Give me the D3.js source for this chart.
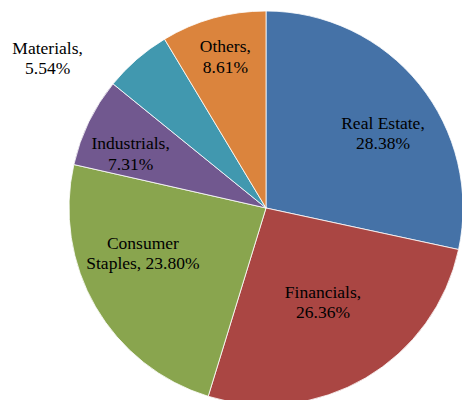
<!DOCTYPE html>
<html>
<head>
<meta charset="utf-8">
<script src="https://cdn.jsdelivr.net/npm/d3@7"></script>
<style>
  html, body { margin: 0; padding: 0; background: #fff; }
  svg { display: block; }
  text.lbl { font-family: "Liberation Serif", "Times New Roman", Times, "DejaVu Serif", serif; }
</style>
</head>
<body>
<svg id="chart" width="462" height="400"></svg>
<script>
const categories = ["Real Estate", "Financials", "Consumer Staples", "Industrials", "Materials", "Others"];
const values = [28.38, 26.36, 23.80, 7.31, 5.54, 8.61];
const labelLines = [
  ["Real Estate,", "28.38%"],
  ["Financials,", "26.36%"],
  ["Consumer", "Staples, 23.80%"],
  ["Industrials,", "7.31%"],
  ["Materials,", "5.54%"],
  ["Others,", "8.61%"]
];
const colors = ["#4572A7", "#AA4643", "#89A54E", "#71588F", "#4198AF", "#DB843D"];
// label placement: [angle (deg, clockwise from top), distance from centre]
const labelPlacement = [[57.3, 139], [148.8, 110], [250, 131], [292, 146], [304.5, 265], [345, 157]];

const svg = d3.select("#chart");
const cx = 266, cy = 208, R = 197;
const g = svg.append("g").attr("transform", `translate(${cx},${cy})`);

const pie = d3.pie().sort(null).value(d => d);
const arcs = pie(values);
const arc = d3.arc().innerRadius(0).outerRadius(R);

g.selectAll("path.slice")
  .data(arcs)
  .join("path")
  .attr("class", "slice")
  .attr("d", arc)
  .attr("fill", (d, i) => colors[i])
  .attr("stroke", "#fff")
  .attr("stroke-width", 0.8);

const fontSize = 17.5, lineH = 20.5;
const labels = g.selectAll("text.lbl")
  .data(arcs)
  .join("text")
  .attr("class", "lbl")
  .attr("text-anchor", "middle")
  .style("font-size", fontSize + "px")
  .attr("fill", "#000")
  .attr("transform", (d, i) => {
    const a = labelPlacement[i][0] * Math.PI / 180, r = labelPlacement[i][1];
    return `translate(${r * Math.sin(a)},${-r * Math.cos(a)})`;
  });
labels.each(function(d, i) {
  const t = d3.select(this);
  const lines = labelLines[i];
  lines.forEach((ln, k) => {
    t.append("tspan")
      .attr("x", 0)
      .attr("y", (k - (lines.length - 1) / 2) * lineH + fontSize * 0.35)
      .text(ln);
  });
});
</script>
</body>
</html>
